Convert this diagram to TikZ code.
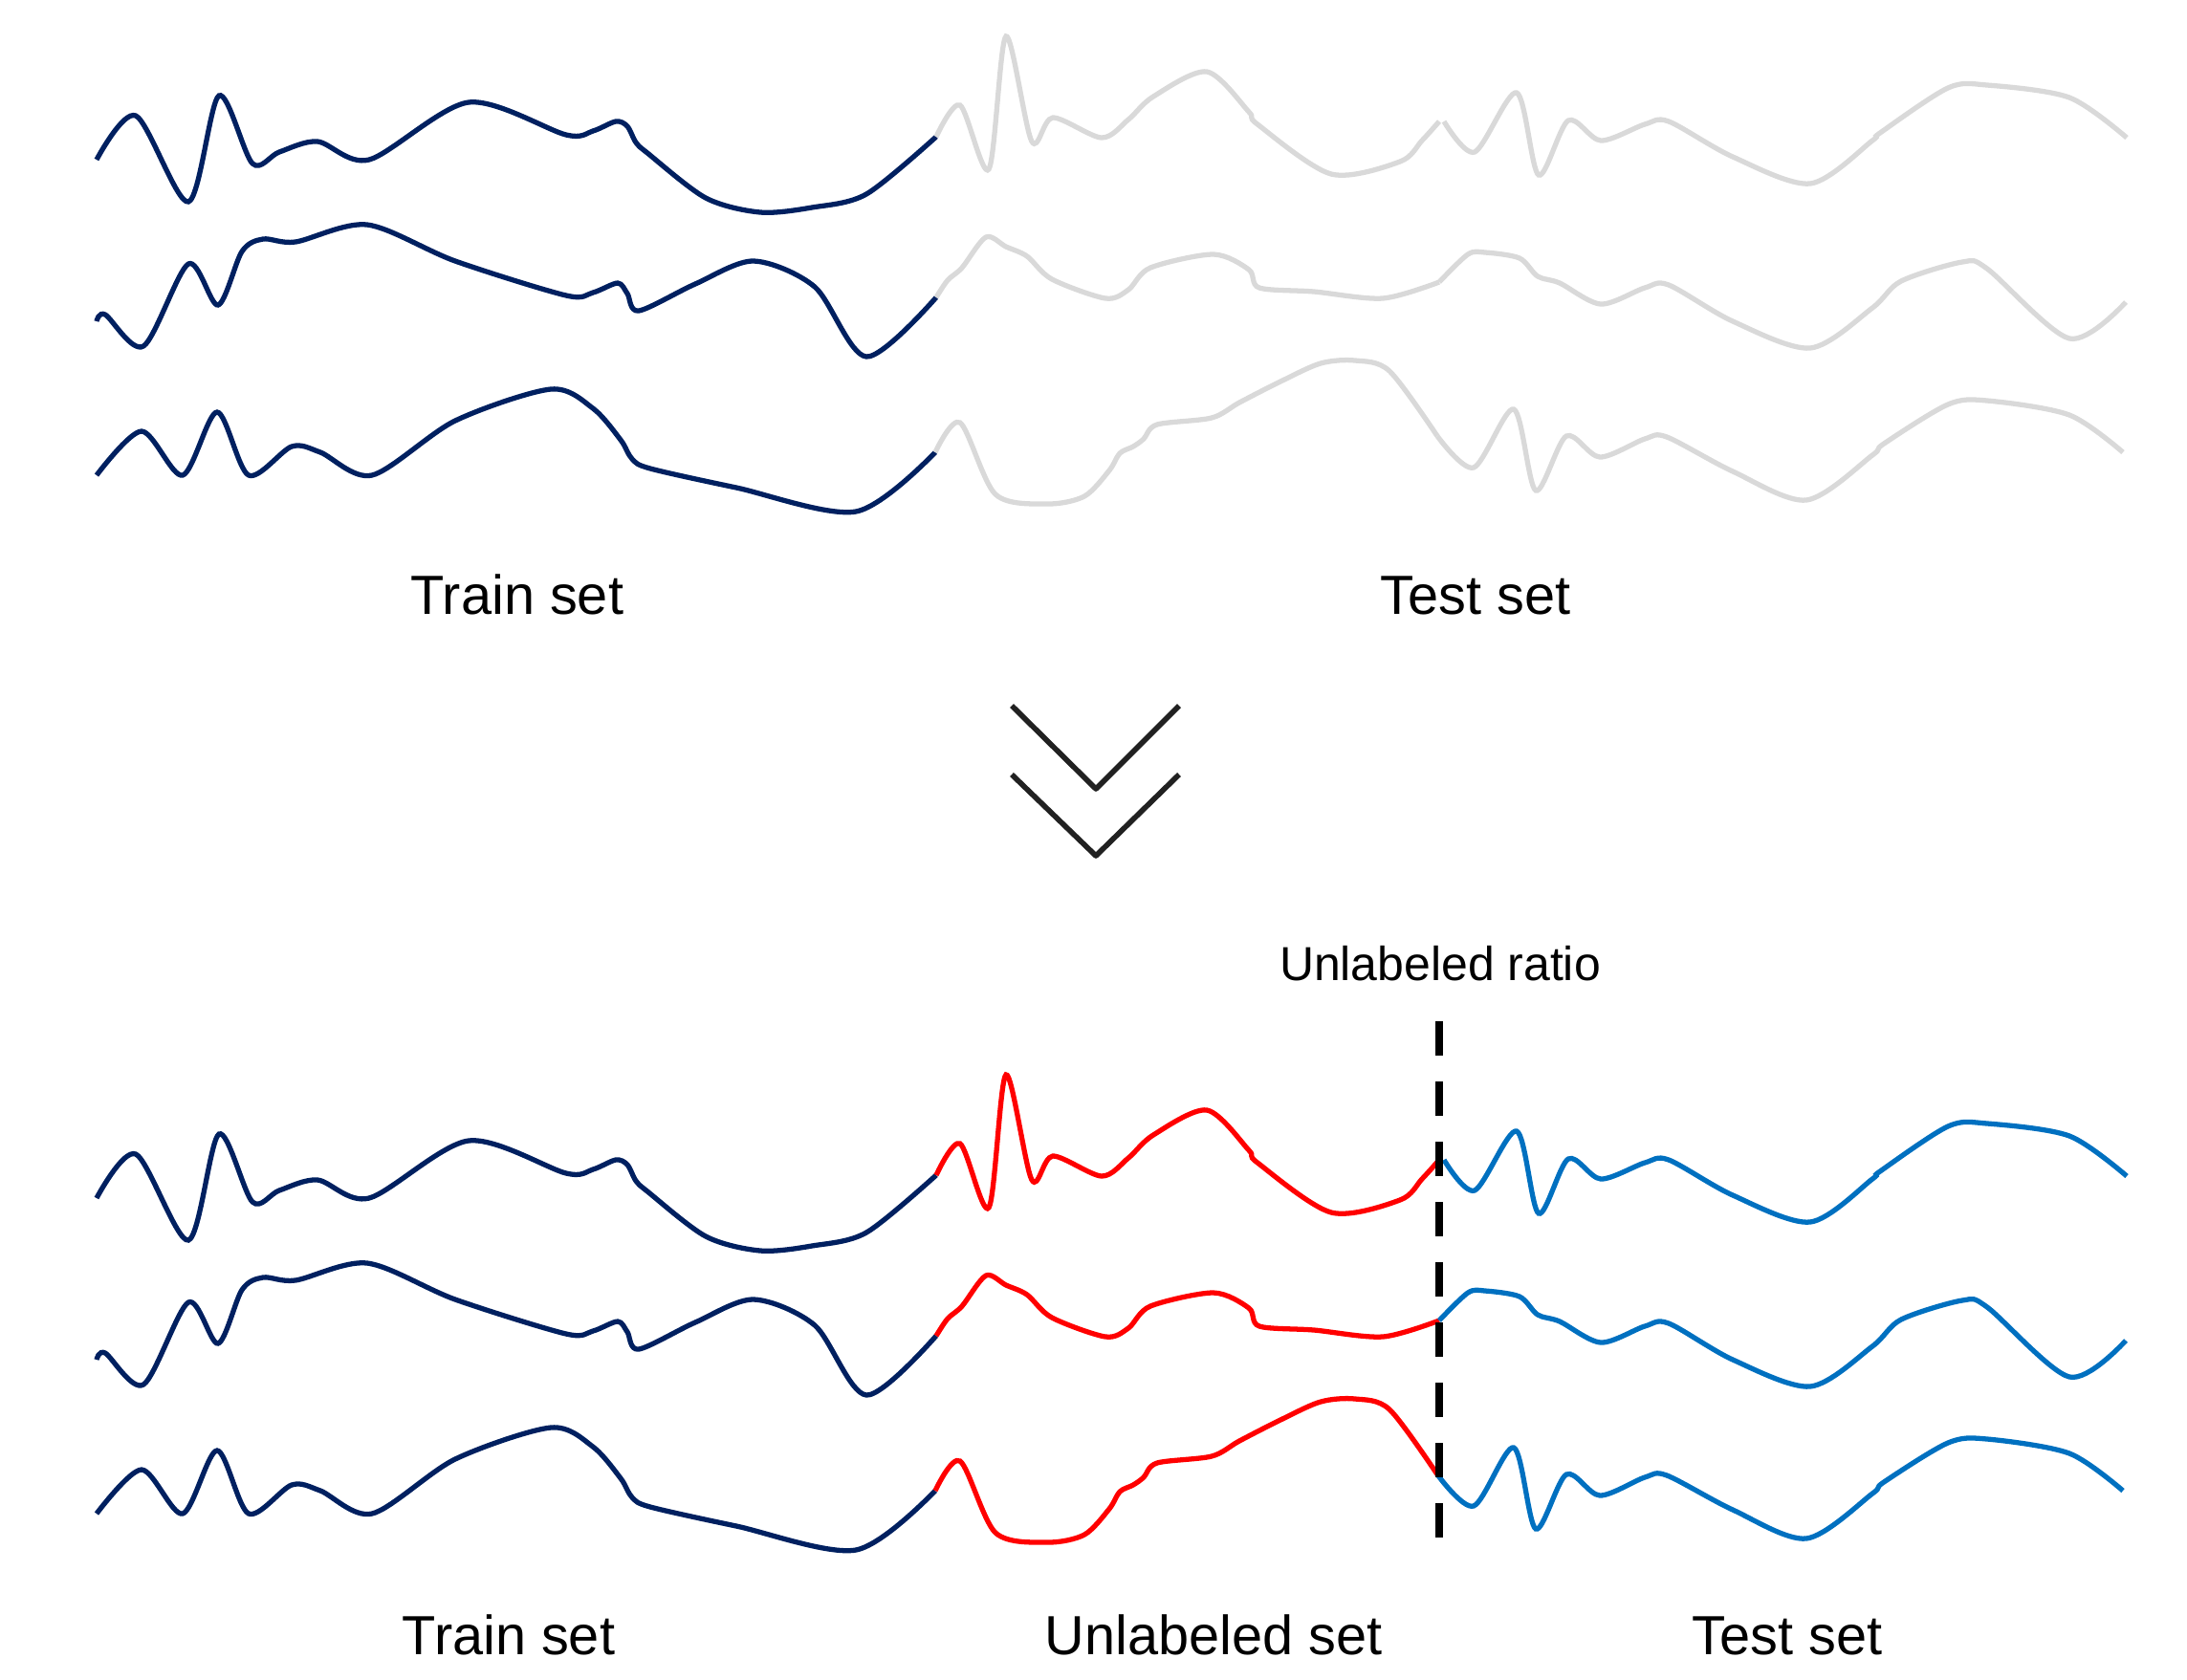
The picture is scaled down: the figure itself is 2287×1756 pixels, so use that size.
\documentclass[tikz,border=0pt]{standalone}
\usepackage{fontspec}
\setmainfont{Liberation Sans}
\usepackage{xcolor}

\definecolor{trainnavy}{HTML}{002060}
\definecolor{restgray}{HTML}{D9D9D9}
\definecolor{unlabred}{HTML}{FF0000}
\definecolor{testblue}{HTML}{0070C0}

% three signals, each cut in train / unlabeled / test parts
\newcommand{\signalrows}[3]{%
  \draw[wave, #1] plot coordinates {(101,167) (142,121) (197,211) (229,100) (264,171) (292,159) (332,148) (386,167) (490,107) (592,141) (620,137) (644,127) (656,132) (665,149) (677,160) (738,207) (795,222) (849,217) (906,203) (979,143)};
  \draw[wave, #2] plot coordinates {(979,143) (1004,110) (1034,177) (1052,38) (1079,148) (1101,123) (1152,144) (1180,125) (1206,101) (1262,75) (1306,117) (1315,130) (1392,182) (1464,169) (1487,147) (1505,127)};
  \draw[wave, #3] plot coordinates {(1510,127) (1542,159) (1586,97) (1609,183) (1640,126) (1674,147) (1720,130) (1745,127) (1812,164) (1893,192) (1958,147) (1966,139) (2037,92) (2078,89) (2164,102) (2224,144)};
  \draw[wave, #1] plot coordinates {(101,336) (110,329) (150,362) (197,276) (228,319) (253,263) (275,250) (309,253) (384,235) (476,273) (592,309) (620,306) (646,296) (656,307) (668,325) (727,297) (788,273) (852,300) (906,373) (979,311)};
  \draw[wave, #2] plot coordinates {(979,311) (991,293) (1006,280) (1031,248) (1052,258) (1074,268) (1100,292) (1156,312) (1180,303) (1203,280) (1269,266) (1306,282) (1317,301) (1374,305) (1446,312) (1505,295)};
  \draw[wave, #3] plot coordinates {(1505,295) (1535,266) (1553,264) (1589,270) (1608,289) (1631,296) (1674,318) (1720,301) (1745,298) (1812,336) (1893,364) (1958,322) (1988,294) (2052,274) (2078,281) (2164,354) (2223,316)};
  \draw[wave, #1] plot coordinates {(101,497) (148,451) (191,497) (227,431) (260,497) (305,467) (335,473) (389,497) (476,440) (576,407) (620,427) (649,460) (661,480) (680,490) (770,510) (895,535) (978,473)};
  \draw[wave, #2] plot coordinates {(978,473) (1004,442) (1041,517) (1095,527) (1134,519) (1160,492) (1171,474) (1185,467) (1196,459) (1210,444) (1267,437) (1296,421) (1339,399) (1381,380) (1417,377) (1453,388) (1503,456)};
  \draw[wave, #3] plot coordinates {(1503,456) (1541,489) (1583,428) (1606,513) (1638,456) (1673,478) (1720,459) (1743,457) (1812,493) (1889,523) (1958,476) (1970,464) (2037,423) (2078,419) (2164,434) (2220,473)};
}

\begin{document}
\begin{tikzpicture}[
        x=0.01cm, y=-0.01cm,
        wave/.style={line width=1.5pt, smooth, tension=0.5},
        lbl/.style={font=\fontsize{16.4}{20}\selectfont, anchor=base, inner sep=0pt},
        chev/.style={draw=black!87, line width=1.6pt, line join=round},
        cut/.style={line width=2.3pt, dash pattern=on 0.36cm off 0.27cm},
    ]
    \useasboundingbox (0,0) rectangle (2287,1756);

    % before the split
    \signalrows{trainnavy}{restgray}{restgray}
    \node[lbl] (trainTop) at (541,642) {Train set};
    \node[lbl] (testTop)  at (1543,642) {Test set};

    % double chevron
    \draw[chev] (1058,738) -- (1146,825) -- (1233,738);
    \draw[chev] (1058,810) -- (1146,895) -- (1233,810);

    % after the split
    \begin{scope}[shift={(0,1086)}]
        \signalrows{trainnavy}{unlabred}{testblue}
    \end{scope}

    \node[lbl, font=\fontsize{14.2}{17}\selectfont] (ratio) at (1506,1025) {Unlabeled ratio};
    \coordinate (cutTop) at (1505,1068);
    \coordinate (cutBot) at (1505,1608);
    \draw[cut] (cutTop) -- (cutBot);

    \node[lbl] (trainBot) at (532,1730) {Train set};
    \node[lbl] (unlabBot) at (1269,1730) {Unlabeled set};
    \node[lbl] (testBot)  at (1869,1730) {Test set};
\end{tikzpicture}
\end{document}
